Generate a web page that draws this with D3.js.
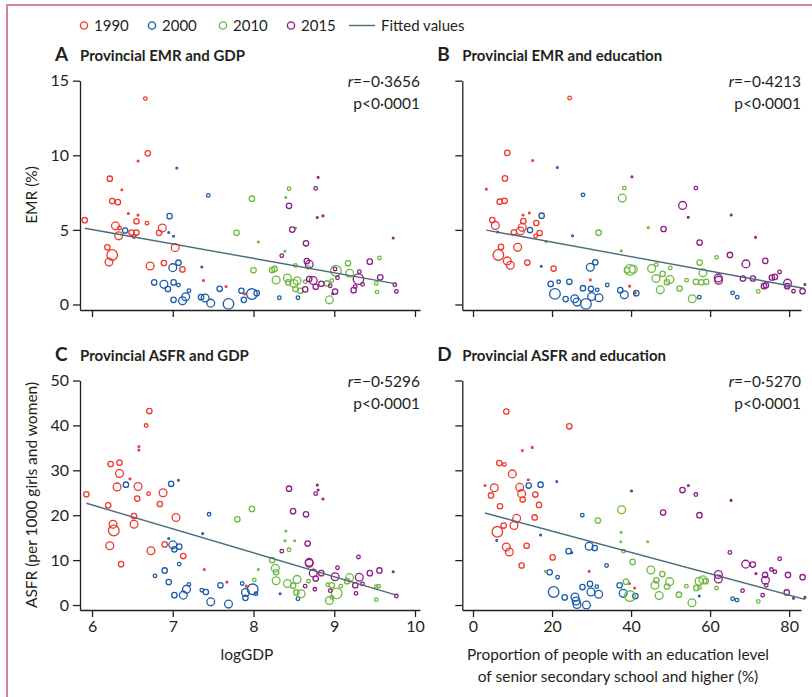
<!DOCTYPE html>
<html>
<head>
<meta charset="utf-8">
<script src="https://cdn.jsdelivr.net/npm/d3@7"></script>
<style>
  body { margin: 0; background: #fff; }
  svg text { font-family: Lato, "Open Sans", sans-serif; fill: #231f20; }
</style>
</head>
<body>
<div id="chart"></div>
<script>
// legend / series
var years = ["1990", "2000", "2010", "2015"];
var yearColors = ["#ee3a2c", "#1d5ca8", "#6dba3f", "#8c1d86"];

// each point: [x, y, weight class 1-5]
var emrGdp1990 = [[5.91,5.65,3],[6.66,13.8,2],[6.69,10.13,3],[6.57,9.62,1],[6.22,8.43,3],[6.37,7.69,1],[6.25,6.93,3],[6.32,6.86,3],[6.45,6.1,1],[6.57,5.99,1],[6.55,5.58,3],[6.68,5.45,2],[6.29,5.27,4],[6.34,5.13,2],[6.33,4.6,4],[6.49,4.82,3],[6.55,4.82,3],[6.52,4.55,2],[6.87,5.13,4],[6.83,4.8,3],[6.19,3.83,3],[6.25,3.32,5],[6.21,2.85,4],[7.03,3.81,4],[6.72,2.58,4],[6.89,2.78,3],[7.12,2.35,3],[7.38,1.61,1],[7.66,1.21,1],[7.89,0.7,1]];
var emrGdp2000 = [[7.05,9.15,1],[7.44,7.31,2],[6.96,5.92,3],[6.41,4.96,3],[6.95,4.82,1],[7.01,4.57,1],[7.36,2.51,1],[7.07,2.8,3],[7.0,2.47,4],[6.77,1.48,3],[6.89,1.35,4],[6.94,1.03,3],[7.01,1.48,3],[7.07,1.3,2],[7.2,0.92,2],[7.16,0.52,4],[7.12,0.25,4],[7.01,0.31,3],[7.35,0.49,3],[7.4,0.43,4],[7.47,0.09,4],[7.58,1.05,3],[7.69,0.04,5],[7.85,0.92,3],[7.88,0.31,3],[7.98,0.7,5],[8.04,0.76,3],[8.32,0.45,2],[8.55,0.45,2],[8.98,0.72,1]];
var emrGdp2010 = [[7.98,7.09,3],[8.44,7.76,2],[8.4,7.17,1],[7.79,4.8,3],[8.06,4.19,1],[8.52,5.13,1],[8.39,3.57,1],[8.0,2.29,3],[8.23,2.31,3],[8.26,2.38,3],[8.52,2.62,2],[8.28,1.64,4],[8.42,1.77,4],[8.43,1.48,3],[8.5,1.41,4],[8.54,1.59,4],[8.52,1.03,3],[8.58,0.92,3],[8.68,2.49,2],[8.94,0.31,4],[8.91,1.41,3],[8.97,1.59,2],[9.02,2.26,5],[9.17,2.76,3],[9.19,2.09,4],[9.52,1.41,2],[9.53,0.83,2],[9.56,3.12,2],[8.64,1.52,2]];
var emrGdp2015 = [[8.8,8.52,1],[8.77,7.78,2],[8.44,6.61,3],[8.79,5.83,1],[8.86,5.94,1],[8.48,5.02,3],[8.65,4.1,3],[8.35,3.27,2],[8.66,2.91,3],[8.69,2.69,4],[8.69,1.7,3],[8.74,1.61,4],[8.77,1.19,3],[8.84,1.39,3],[8.64,1.01,3],[8.95,1.26,2],[9.01,2.38,2],[9.04,1.79,2],[9.01,0.87,3],[9.24,0.96,3],[9.26,1.19,2],[9.31,2.2,2],[9.3,1.7,5],[9.35,1.35,2],[9.44,2.87,3],[9.57,1.82,3],[9.73,4.46,1],[9.75,1.32,2],[9.77,0.87,2]];

var emrEdu1990 = [[24.45,13.84,2],[8.68,10.16,3],[15.09,9.65,1],[8.09,8.45,3],[3.37,7.73,1],[6.75,6.89,3],[8.01,6.95,3],[4.89,5.66,3],[5.65,5.3,4],[12.65,6.0,1],[14.25,6.13,1],[12.73,5.59,3],[12.48,5.17,4],[11.97,4.93,4],[10.37,4.84,3],[16.02,5.46,3],[16.86,4.79,3],[15.85,4.59,2],[7.08,3.86,3],[11.3,3.83,4],[6.41,3.32,5],[8.68,2.92,4],[9.44,2.63,4],[13.74,2.81,3],[20.4,2.41,3],[29.68,1.65,1],[39.63,1.23,1],[41.06,0.78,1]];
var emrEdu2000 = [[21.33,9.18,1],[27.82,7.35,2],[17.37,5.95,3],[14.42,4.99,3],[6.24,4.86,1],[25.2,4.61,1],[17.28,2.56,1],[30.94,2.83,3],[29.68,2.5,4],[19.65,1.38,3],[21.67,1.52,2],[24.37,1.52,3],[20.74,0.71,5],[23.44,0.36,3],[25.72,0.38,4],[26.31,0.16,4],[28.58,0.04,5],[27.82,1.09,3],[29.85,1.05,3],[31.45,0.98,2],[30.02,0.53,4],[31.87,0.45,4],[33.98,1.31,2],[37.27,0.96,3],[38.28,0.65,4],[41.32,0.76,3],[57.25,0.49,2],[65.68,0.78,2],[66.86,0.49,2]];
var emrEdu2010 = [[38.28,7.8,2],[37.77,7.13,4],[44.35,5.15,1],[31.79,4.81,3],[18.47,4.21,1],[37.52,3.59,1],[39.71,2.32,5],[38.95,2.3,3],[40.56,2.36,4],[45.19,2.41,4],[46.37,2.67,2],[49.92,2.45,2],[47.98,2.05,3],[46.29,1.74,4],[49.83,1.67,4],[49.07,1.49,3],[47.39,0.98,4],[52.28,1.07,3],[54.05,1.63,2],[55.48,0.38,4],[57.34,2.81,3],[58.18,2.12,4],[56.41,1.52,3],[57.76,1.49,3],[59.02,1.52,3],[61.64,3.16,2],[72.18,0.87,2]];
var emrEdu2015 = [[40.22,8.56,1],[56.41,7.8,2],[53.04,6.64,4],[54.47,5.84,1],[65.35,6.0,1],[48.23,5.06,3],[57.34,4.15,3],[71.5,4.5,1],[65.01,3.32,3],[69.06,2.72,4],[73.95,2.92,3],[77.57,2.18,2],[62.06,1.78,4],[62.14,1.63,4],[68.3,1.74,3],[70.83,1.74,3],[75.63,1.81,3],[76.39,1.85,3],[73.61,1.23,3],[74.12,1.29,3],[79.6,1.43,4],[79.51,1.23,3],[81.11,0.89,2],[83.39,0.89,3],[83.98,1.34,1]];

var asfrGdp1990 = [[5.93,24.67,3],[6.71,43.2,3],[6.67,39.97,2],[6.58,35.3,1],[6.58,34.5,1],[6.23,31.4,3],[6.34,31.7,3],[6.34,29.3,4],[6.47,28.1,1],[6.31,26.3,4],[6.57,26.4,4],[6.7,24.8,2],[6.88,25.0,4],[6.56,23.7,3],[6.84,22.5,3],[6.2,22.2,3],[6.26,18.0,4],[6.27,16.6,5],[6.52,19.8,3],[6.52,18.0,4],[7.04,19.5,4],[6.22,13.2,4],[6.73,12.1,4],[6.9,13.5,3],[7.13,10.9,3],[6.36,9.1,3],[7.39,7.9,1],[7.67,5.1,1],[7.91,4.2,1]];
var asfrGdp2000 = [[6.42,26.8,3],[6.98,27.0,3],[7.07,27.8,1],[7.45,20.2,2],[7.37,15.9,1],[6.95,14.8,1],[7.0,13.4,4],[7.02,12.4,3],[7.08,13.0,3],[7.08,9.1,2],[6.9,7.7,3],[6.78,6.5,2],[6.95,5.1,3],[7.2,4.6,2],[7.17,3.5,4],[7.02,2.2,3],[7.13,2.2,4],[7.36,3.3,2],[7.41,2.9,3],[7.47,0.7,4],[7.69,0.2,4],[7.59,4.4,3],[7.86,4.8,2],[7.9,2.8,4],[7.99,3.5,5],[8.03,2.5,2],[7.9,1.6,3],[8.33,2.5,1],[8.55,1.4,2]];
var asfrGdp2010 = [[7.8,19.1,3],[7.98,21.4,3],[8.4,16.5,1],[8.39,14.3,1],[8.51,14.3,1],[8.44,12.3,2],[8.23,10.0,3],[8.27,8.2,4],[8.28,7.3,3],[8.06,7.9,1],[8.01,5.6,2],[8.28,5.4,4],[8.42,4.8,4],[8.49,4.3,3],[8.54,5.7,4],[8.53,2.8,3],[8.59,2.5,4],[8.68,5.3,2],[8.92,4.5,2],[8.97,4.4,3],[9.08,4.2,2],[9.19,6.1,4],[9.16,5.3,3],[9.03,2.6,5],[8.94,1.0,4],[8.97,1.7,2],[9.52,4.1,2],[9.55,4.2,2],[9.52,1.2,2]];
var asfrGdp2015 = [[8.79,26.7,1],[8.44,25.9,3],[8.8,25.6,1],[8.77,24.8,2],[8.86,23.6,1],[8.49,20.9,3],[8.65,20.2,3],[8.67,13.7,3],[8.35,12.0,2],[8.69,9.5,4],[8.69,9.3,4],[8.74,7.1,4],[8.84,7.1,3],[8.77,5.9,3],[8.64,4.2,2],[8.76,3.5,2],[9.01,6.3,4],[9.04,8.3,2],[9.3,10.7,2],[9.31,6.2,4],[9.26,4.4,3],[9.35,4.7,2],[9.27,2.6,2],[8.95,3.2,2],[9.44,7.1,3],[9.56,7.7,3],[9.73,7.4,1],[9.77,2.0,2]];

var asfrEdu1990 = [[8.43,43.1,3],[24.37,39.8,3],[12.48,34.4,1],[15.0,35.1,1],[6.66,31.6,3],[7.93,31.3,2],[9.95,29.2,4],[3.04,26.6,1],[5.4,26.1,4],[4.55,24.4,3],[11.8,26.2,4],[14.0,27.9,1],[12.3,24.8,4],[12.56,23.5,3],[15.77,24.6,3],[16.7,22.3,3],[6.83,22.0,3],[11.05,19.3,4],[15.6,19.5,3],[10.37,17.7,4],[7.76,17.7,3],[6.16,16.3,5],[8.43,12.9,4],[9.19,11.8,4],[13.57,13.2,3],[12.3,8.8,3],[20.15,10.6,3],[29.4,7.5,1],[39.6,4.8,1],[40.9,3.8,1]];
var asfrEdu2000 = [[14.08,26.6,3],[17.1,26.8,3],[21.2,27.5,1],[27.66,20.0,2],[17.1,15.6,1],[6.0,14.4,1],[24.2,12.0,3],[25.0,11.7,1],[29.4,13.1,4],[30.8,12.7,3],[33.8,8.8,2],[19.4,7.3,3],[21.4,6.2,2],[20.4,2.9,5],[23.2,1.7,3],[25.8,1.8,4],[26.1,0.9,4],[26.3,0.1,4],[28.7,0.0,4],[27.7,4.0,3],[29.6,4.7,3],[31.3,4.1,2],[29.85,2.9,4],[31.8,2.4,4],[37.1,4.4,3],[38.0,2.6,4],[41.1,2.0,3],[57.25,2.0,1],[65.7,1.4,2],[66.8,1.1,2]];
var asfrEdu2010 = [[37.6,21.2,4],[31.6,18.8,3],[37.5,16.2,1],[37.4,14.1,1],[44.2,14.1,1],[38.1,12.0,2],[40.4,9.6,3],[18.3,7.5,1],[38.7,5.2,3],[39.7,2.0,5],[45.0,7.8,4],[47.9,6.9,3],[46.4,5.5,3],[46.05,4.4,4],[49.1,4.1,3],[49.75,5.2,4],[47.1,2.1,4],[52.1,2.3,3],[54.0,4.2,2],[55.4,0.5,4],[56.5,3.8,3],[57.2,5.3,4],[58.2,5.6,4],[58.9,5.3,3],[57.3,3.9,2],[61.6,3.8,2],[72.2,0.8,2]];
var asfrEdu2015 = [[40.1,25.4,1],[53.0,25.6,3],[54.5,26.6,1],[56.4,24.6,2],[65.3,23.3,1],[48.1,20.6,3],[57.3,20.0,3],[65.0,11.7,2],[69.0,9.1,4],[70.8,9.0,3],[77.6,10.3,2],[71.6,7.0,1],[75.5,7.9,2],[76.4,7.4,2],[62.1,6.8,4],[62.1,5.8,4],[73.9,6.7,3],[74.0,5.5,4],[74.2,4.4,2],[79.7,6.7,3],[83.4,6.2,3],[68.2,3.2,2],[73.3,2.2,2],[79.4,2.8,3],[81.1,1.5,1],[84.0,1.7,1]];

// fitted values: [intercept, slope]
var emrGdpFit = [10.82, -0.966];
var emrEduFit = [5.15, -0.0486];
var asfrGdpFit = [54.27, -5.33];
var asfrEduFit = [21.21, -0.2376];

var gdpTicks = [6, 7, 8, 9, 10];
var eduTicks = [0, 20, 40, 60, 80];
var emrTicks = [0, 5, 10, 15];
var asfrTicks = [0, 10, 20, 30, 40, 50];

var width = 812, height = 697;

var svg = d3.select("#chart").append("svg")
    .attr("width", width)
    .attr("height", height);

// pink frame (cropped on right/bottom)
svg.append("rect")
    .attr("x", 7).attr("y", 5)
    .attr("width", 900).attr("height", 900)
    .attr("fill", "none")
    .attr("stroke", "#d9829b")
    .attr("stroke-width", 2);

// legend
var legend = svg.append("g");
var legendX = [84, 152, 223, 291];
years.forEach(function(y, i) {
    legend.append("circle")
        .attr("cx", legendX[i]).attr("cy", 25.5).attr("r", 3.6)
        .attr("fill", "none").attr("stroke", yearColors[i]).attr("stroke-width", 1.4);
    legend.append("text")
        .attr("x", legendX[i] + 10).attr("y", 31)
        .style("font-size", "15px")
        .text(y);
});
legend.append("line")
    .attr("x1", 349).attr("x2", 375).attr("y1", 25.5).attr("y2", 25.5)
    .attr("stroke", "#4b6a7a").attr("stroke-width", 1.4);
legend.append("text")
    .attr("x", 381).attr("y", 31)
    .style("font-size", "15px")
    .text("Fitted values");

// weight class -> circle radius
var rScale = d3.scaleLinear().domain([1, 2, 3, 4, 5]).range([0.9, 1.8, 2.7, 3.9, 5.3]);

var panels = [
    { letter: "A", title: "Provincial EMR and GDP", series: [emrGdp1990, emrGdp2000, emrGdp2010, emrGdp2015],
      fit: emrGdpFit, r: "\u22120\u00b73656",
      xDomain: [5.851, 10.062], xRange: [80, 420], xTicks: gdpTicks, xLabels: false,
      yDomain: [-0.37, 15], yRange: [310, 80.7], yTicks: emrTicks, yLabels: true, titleY: 61 },
    { letter: "B", title: "Provincial EMR and education", series: [emrEdu1990, emrEdu2000, emrEdu2010, emrEdu2015],
      fit: emrEduFit, r: "\u22120\u00b74213",
      xDomain: [-2.71, 83.0], xRange: [462.3, 801], xTicks: eduTicks, xLabels: false,
      yDomain: [-0.37, 15], yRange: [310, 80.7], yTicks: emrTicks, yLabels: false, titleY: 61 },
    { letter: "C", title: "Provincial ASFR and GDP", series: [asfrGdp1990, asfrGdp2000, asfrGdp2010, asfrGdp2015],
      fit: asfrGdpFit, r: "\u22120\u00b75296",
      xDomain: [5.851, 10.062], xRange: [80, 420], xTicks: gdpTicks, xLabels: true,
      yDomain: [-1.11, 50], yRange: [610, 380.5], yTicks: asfrTicks, yLabels: true, titleY: 361 },
    { letter: "D", title: "Provincial ASFR and education", series: [asfrEdu1990, asfrEdu2000, asfrEdu2010, asfrEdu2015],
      fit: asfrEduFit, r: "\u22120\u00b75270",
      xDomain: [-2.71, 83.0], xRange: [462.3, 801], xTicks: eduTicks, xLabels: true,
      yDomain: [-1.11, 50], yRange: [610, 380.5], yTicks: asfrTicks, yLabels: false, titleY: 361 }
];

panels.forEach(function(p) {
    var x = d3.scaleLinear().domain(p.xDomain).range(p.xRange);
    var y = d3.scaleLinear().domain(p.yDomain).range(p.yRange);
    var g = svg.append("g");

    // title
    g.append("text")
        .attr("x", p.xRange[0] - 25).attr("y", p.titleY)
        .style("font-weight", "bold").style("font-size", "19px")
        .text(p.letter);
    g.append("text")
        .attr("x", p.xRange[0]).attr("y", p.titleY)
        .style("font-weight", "bold").style("font-size", "15px")
        .text(p.title);

    // axes
    var xAxis = d3.axisBottom(x).tickValues(p.xTicks).tickSize(7).tickSizeOuter(0).tickPadding(4)
        .tickFormat(p.xLabels ? d3.format("d") : "");
    var gx = g.append("g")
        .attr("transform", "translate(0," + p.yRange[0] + ")")
        .call(xAxis);

    var yAxis = d3.axisLeft(y).tickValues(p.yTicks).tickSize(7).tickSizeOuter(0).tickPadding(4)
        .tickFormat(p.yLabels ? d3.format("d") : "");
    var gy = g.append("g")
        .attr("transform", "translate(" + p.xRange[0] + ",0)")
        .call(yAxis);

    [gx, gy].forEach(function(a) {
        a.select(".domain").attr("stroke", "#231f20").attr("stroke-width", 1.3);
        a.selectAll(".tick line").attr("stroke", "#231f20").attr("stroke-width", 1.3);
        a.selectAll(".tick text")
            .style("font-family", "Lato, sans-serif")
            .style("font-size", "16px").attr("fill", "#231f20");
    });

    // points
    p.series.forEach(function(data, i) {
        g.append("g").selectAll("circle")
            .data(data)
            .enter()
            .append("circle")
            .attr("cx", function(d) { return x(d[0]); })
            .attr("cy", function(d) { return y(d[1]); })
            .attr("r", function(d) { return rScale(d[2]); })
            .attr("fill", "none")
            .attr("stroke", yearColors[i])
            .attr("stroke-width", 1.3);
    });

    // fitted line across data range
    var all = d3.merge(p.series);
    var xe = d3.extent(all, function(d) { return d[0]; });
    g.append("line")
        .attr("x1", x(xe[0])).attr("x2", x(xe[1]))
        .attr("y1", y(p.fit[0] + p.fit[1] * xe[0]))
        .attr("y2", y(p.fit[0] + p.fit[1] * xe[1]))
        .attr("stroke", "#4b6a7a")
        .attr("stroke-width", 1.4);

    // r and p
    var rt = g.append("text")
        .attr("x", p.xRange[1]).attr("y", y(p.yDomain[1]) + 6)
        .attr("text-anchor", "end")
        .style("font-size", "15.5px");
    rt.append("tspan").style("font-style", "italic").text("r");
    rt.append("tspan").text("=" + p.r);
    g.append("text")
        .attr("x", p.xRange[1]).attr("y", y(p.yDomain[1]) + 28)
        .attr("text-anchor", "end")
        .style("font-size", "15.5px")
        .text("p<0\u00b70001");
});

// axis titles
svg.append("text")
    .attr("transform", "translate(37,195) rotate(-90)")
    .attr("text-anchor", "middle")
    .style("font-size", "15.5px")
    .text("EMR (%)");
svg.append("text")
    .attr("transform", "translate(37,495) rotate(-90)")
    .attr("text-anchor", "middle")
    .style("font-size", "15.5px")
    .text("ASFR (per 1000 girls and women)");
svg.append("text")
    .attr("x", 247).attr("y", 660)
    .attr("text-anchor", "middle")
    .style("font-size", "15.5px")
    .text("logGDP");
svg.append("text")
    .attr("x", 618).attr("y", 660)
    .attr("text-anchor", "middle")
    .style("font-size", "15.5px")
    .text("Proportion of people with an education level");
svg.append("text")
    .attr("x", 618).attr("y", 682)
    .attr("text-anchor", "middle")
    .style("font-size", "15.5px")
    .text("of senior secondary school and higher (%)");
</script>
</body>
</html>
